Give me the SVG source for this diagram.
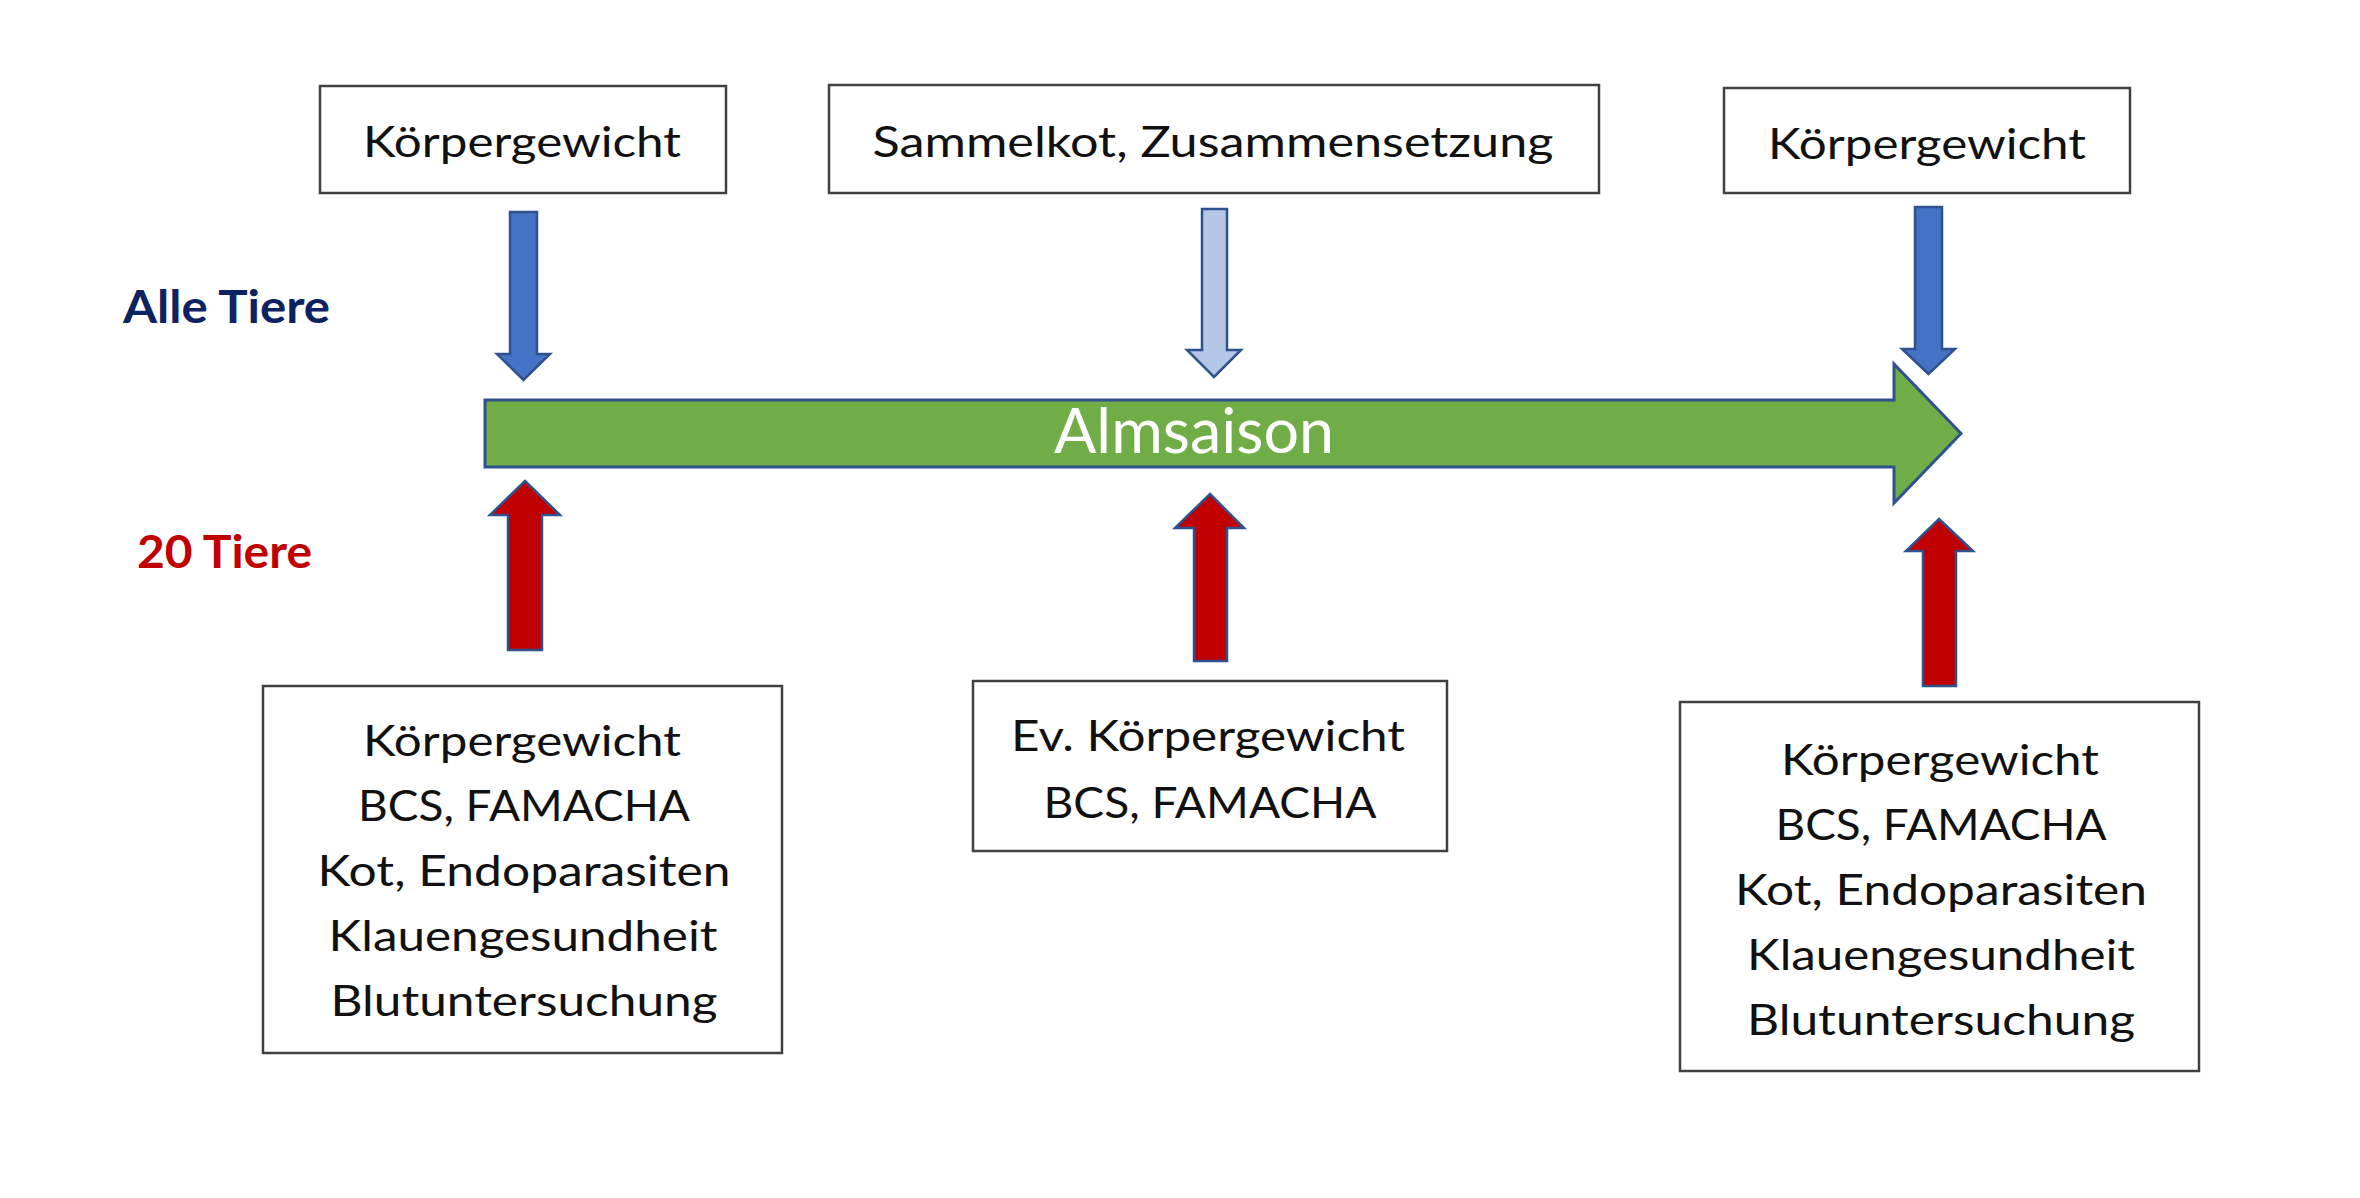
<svg xmlns="http://www.w3.org/2000/svg" width="2360" height="1198" viewBox="0 0 2360 1198">
<style>
.box{fill:#ffffff;stroke:#404040;stroke-width:2.5}
.bt{font-family:Lato,"Open Sans","Liberation Sans",sans-serif;font-size:43px;fill:#111111;text-anchor:middle}
.lbl{font-family:Lato,"Open Sans","Liberation Sans",sans-serif;font-size:45px;font-weight:bold}
.blue{fill:#4472C4;stroke:#2F528F;stroke-width:2.5;stroke-linejoin:miter}
.lblue{fill:#B4C7E7;stroke:#2F528F;stroke-width:2.5}
.red{fill:#C00000;stroke:#2F528F;stroke-width:2.5}
.green{fill:#70AD47;stroke:#2F528F;stroke-width:3}
</style>
<rect width="2360" height="1198" fill="#ffffff"/>

<g id="labels">
<text class="lbl" x="123" y="323" fill="#0D2260" textLength="207" lengthAdjust="spacingAndGlyphs">Alle Tiere</text>
<text class="lbl" x="137" y="568" fill="#C00000" textLength="175" lengthAdjust="spacingAndGlyphs">20 Tiere</text>
</g>

<g id="timeline">
<polygon class="green" points="485,400 1894,400 1894,364 1961,433.5 1894,503 1894,467 485,467"/>
<text x="1194" y="453" font-family="Lato,'Open Sans','Liberation Sans',sans-serif" font-size="61" fill="#ffffff" text-anchor="middle" textLength="280" lengthAdjust="spacingAndGlyphs">Almsaison</text>
</g>

<g id="connectors">
<polygon class="blue" points="510,212 537,212 537,354 550,354 523.5,380 497,354 510,354"/>
<polygon class="lblue" points="1202,209 1227,209 1227,350 1241,350 1214,377 1187,350 1202,350"/>
<polygon fill="none" stroke="#ffffff" stroke-width="9" points="1915,207 1942,207 1942,349 1955,349 1928.5,374 1902,349 1915,349"/>
<polygon class="blue" points="1915,207 1942,207 1942,349 1955,349 1928.5,374 1902,349 1915,349"/>
<polygon class="red" points="525,481 560,515 542,515 542,650 508,650 508,515 490,515"/>
<polygon class="red" points="1210,494 1244,528 1227,528 1227,661 1194,661 1194,528 1175,528"/>
<polygon class="red" points="1939,519 1973,551 1956,551 1956,686 1923,686 1923,551 1906,551"/>
</g>

<g id="top-left">
<rect class="box" x="320" y="86" width="406" height="107"/>
<text class="bt" x="522" y="157" textLength="318" lengthAdjust="spacingAndGlyphs">Körpergewicht</text>
</g>
<g id="top-mid">
<rect class="box" x="829" y="85" width="770" height="108"/>
<text class="bt" x="1213" y="157" textLength="681" lengthAdjust="spacingAndGlyphs">Sammelkot, Zusammensetzung</text>
</g>
<g id="top-right">
<rect class="box" x="1724" y="88" width="406" height="105"/>
<text class="bt" x="1927" y="159" textLength="318" lengthAdjust="spacingAndGlyphs">Körpergewicht</text>
</g>

<g id="bottom-left">
<rect class="box" x="263" y="686" width="519" height="367"/>
<text class="bt" x="522" y="756" textLength="318" lengthAdjust="spacingAndGlyphs">Körpergewicht</text>
<text class="bt" x="524" y="821" textLength="332" lengthAdjust="spacingAndGlyphs">BCS, FAMACHA</text>
<text class="bt" x="524" y="886" textLength="413" lengthAdjust="spacingAndGlyphs">Kot, Endoparasiten</text>
<text class="bt" x="523" y="951" textLength="389" lengthAdjust="spacingAndGlyphs">Klauengesundheit</text>
<text class="bt" x="524" y="1016" textLength="387" lengthAdjust="spacingAndGlyphs">Blutuntersuchung</text>
</g>
<g id="bottom-mid">
<rect class="box" x="973" y="681" width="474" height="170"/>
<text class="bt" x="1208" y="751" textLength="394" lengthAdjust="spacingAndGlyphs">Ev. Körpergewicht</text>
<text class="bt" x="1210" y="818" textLength="333" lengthAdjust="spacingAndGlyphs">BCS, FAMACHA</text>
</g>
<g id="bottom-right">
<rect class="box" x="1680" y="702" width="519" height="369"/>
<text class="bt" x="1940" y="775" textLength="318" lengthAdjust="spacingAndGlyphs">Körpergewicht</text>
<text class="bt" x="1941" y="840" textLength="331" lengthAdjust="spacingAndGlyphs">BCS, FAMACHA</text>
<text class="bt" x="1941" y="905" textLength="412" lengthAdjust="spacingAndGlyphs">Kot, Endoparasiten</text>
<text class="bt" x="1941" y="970" textLength="388" lengthAdjust="spacingAndGlyphs">Klauengesundheit</text>
<text class="bt" x="1941" y="1035" textLength="388" lengthAdjust="spacingAndGlyphs">Blutuntersuchung</text>
</g>
</svg>
